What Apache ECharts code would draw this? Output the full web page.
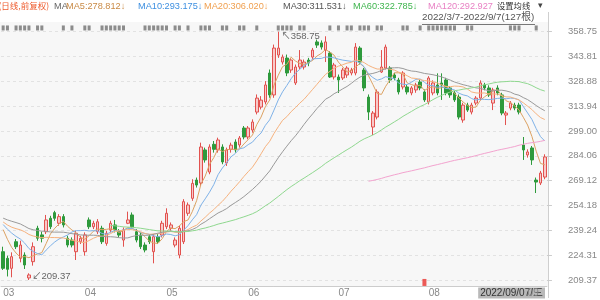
<!DOCTYPE html>
<html><head><meta charset="utf-8">
<script src="https://cdn.jsdelivr.net/npm/echarts@6/dist/echarts.min.js"></script>
<style>html,body{margin:0;padding:0;background:#fff}#c{width:600px;height:300px}</style>
</head><body><div id="c"></div>
<script>
// ---- DATA ----
const tradingDays = [
  [3, [7,8,9,10,11,14,15,16,17,18,21,22,23,24,25,28,29,30,31]],
  [4, [1,6,7,8,11,12,13,14,15,18,19,20,21,22,25,26,27,28,29]],
  [5, [5,6,9,10,11,12,13,16,17,18,19,20,23,24,25,26,27,30,31]],
  [6, [1,2,6,7,8,9,10,13,14,15,16,17,20,21,22,23,24,27,28,29,30]],
  [7, [1,4,5,6,7,8,11,12,13,14,15,18,19,20,21,22,25,26,27,28,29]],
  [8, [1,2,3,4,5,8,9,10,11,12,15,16,17,18,19,22,23,24,25,26,29,30,31]],
  [9, [1,2,5,6,7]]
];
const opens = [226.4,222.4,216.4,232.4,222.4,224.4,210.6,220.4,240.5,236.5,
238.4,246.5,249.9,243.5,247.5,234.5,233.4,226.4,232.4,226.4,
245.5,241.4,238.4,240.5,231.4,239.5,242.5,238.4,233.4,243.5,
248.5,238.4,236.4,230.4,235.4,226.4,235.4,236.4,241.4,240.5,
230.4,224.4,232.4,249.5,258.5,269.5,267.7,287.6,274.3,291.0,
287.6,289.4,279.8,288.0,292.4,290.6,300.8,295.4,299.6,310.4,
313.4,316.5,333.9,320.7,344.7,340.5,342.9,335.7,327.9,337.5,
337.5,341.7,343.5,352.6,352.0,347.7,345.9,331.5,331.5,330.9,
332.7,333.9,333.9,348.9,335.7,319.4,301.4,307.4,334.5,336.9,
336.9,332.7,329.7,325.5,325.5,321.9,323.7,328.5,322.5,316.5,
321.9,326.7,327.9,329.7,324.9,321.9,319.4,305.6,314.6,310.4,
315.8,318.8,326.7,324.9,315.8,324.9,320.7,308.6,312.8,314.6,
314.6,290.6,284.6,288.8,269.5,267.7,271.3];
const closes = [216.4,215.8,223.4,229.4,230.4,218.4,212.4,229.4,234.5,234.5,
245.5,241.4,246.5,247.5,242.5,230.4,230.4,237.5,234.5,236.5,
241.4,243.5,244.4,232.4,237.5,243.5,239.5,236.4,239.5,245.5,
241.4,233.4,229.4,227.4,232.4,235.4,232.4,243.5,249.5,242.5,
233.4,240.5,256.5,254.5,267.5,266.5,289.4,281.6,289.4,288.0,
293.6,280.4,287.6,290.5,287.6,294.8,295.4,300.8,304.4,318.8,
317.6,326.7,320.7,348.9,348.9,343.5,333.9,341.7,337.5,341.7,
340.5,339.9,347.7,350.7,349.5,352.6,331.5,338.7,329.7,335.7,
336.9,335.7,349.5,340.5,324.9,310.4,309.8,322.5,337.5,349.5,
329.7,330.9,322.5,333.9,322.5,324.9,326.7,324.9,317.7,330.9,
327.9,321.9,326.7,321.9,320.7,317.7,307.4,314.6,311.6,314.6,
318.8,327.9,324.9,320.7,323.7,321.9,309.8,309.8,315.8,312.8,
310.4,287.6,286.4,281.6,268.3,273.7,283.4];
const lows = [215.4,211.5,211.0,228.0,220.0,216.0,209.37,218.0,233.0,232.0,
237.0,240.0,245.0,242.0,241.0,229.0,229.0,221.4,231.0,224.0,
240.0,240.0,237.0,231.0,230.0,238.0,238.0,235.0,229.4,243.0,
240.0,232.0,228.0,226.0,231.0,219.4,231.0,235.0,240.0,239.0,
229.0,222.4,231.0,248.0,257.0,265.0,266.0,280.0,273.0,286.0,
286.0,279.0,278.0,286.0,286.0,289.0,294.0,294.0,298.0,309.0,
312.0,315.0,319.0,319.0,343.0,339.0,332.0,334.0,326.7,336.0,
336.0,338.0,342.0,349.0,348.0,340.5,330.9,330.0,321.9,329.7,
331.0,332.5,332.5,339.0,323.0,305.6,296.6,306.0,333.9,336.0,
328.0,329.5,321.0,324.0,321.0,320.5,322.0,323.5,316.5,315.0,
320.5,320.5,317.7,320.5,319.0,316.5,306.0,304.0,310.5,309.0,
314.5,317.5,323.5,319.5,311.6,320.5,308.5,302.6,311.5,311.5,
309.0,281.6,283.0,278.6,261.7,266.5,270.0];
const highs = [229.4,224.0,226.0,234.0,233.0,226.0,213.4,232.0,242.0,238.5,
248.5,248.0,251.0,249.0,249.0,236.0,235.0,239.0,236.0,238.0,
247.0,245.0,246.0,242.0,239.0,245.0,245.5,240.0,241.0,250.5,
250.0,240.0,238.0,232.0,237.0,237.0,237.0,245.0,252.5,244.0,
235.0,242.0,258.0,256.0,270.0,271.0,292.0,289.0,291.0,293.0,
295.0,291.0,289.0,292.0,294.0,296.0,302.0,302.0,306.0,321.0,
320.0,329.0,336.0,351.0,358.75,345.0,345.0,343.0,339.0,347.7,
342.0,343.0,349.0,354.0,353.5,356.0,347.0,340.0,333.0,337.0,
338.0,337.0,351.9,350.0,337.0,321.0,311.0,324.0,347.7,351.0,
338.0,334.0,331.0,335.0,327.0,326.0,328.0,330.0,324.0,332.0,
329.5,333.7,333.7,331.0,326.0,323.0,321.0,316.0,316.0,316.0,
320.0,329.5,328.0,326.5,325.0,326.5,322.0,311.0,317.0,316.0,
316.0,295.4,288.0,290.0,271.0,275.0,285.0];
// closes before 2022/3/7 (estimated from the MA lines at the left edge)
const priorCloses = [252,255,258,254,250,247,249,252,256,259,255,251,248,246,249,252,250,
247,244,242,245,248,246,243,241,244,247,249,246,243,245,248,246,243];
const tickLabels = ['209.37','224.31','239.24','254.18','269.12','284.06','299.00','313.94','328.88','343.81','358.75'];
const maPeriods = [5,10,20,30,60,120];
const maLegend = ['MA5:278.812↓','MA10:293.175↓','MA20:306.020↓','MA30:311.531↓','MA60:322.785↓','MA120:292.927'];
const markerIdx = [0,1,3,4,5,6,8,9,14,16,19,20,23,24,25,26,27,28,33,34,35,36,37,38,40,41,43,46,47,48,51,52,55,56,59,
64,65,66,67,69,70,76,78,80,81,83,84,85,87,88,93,94,97,99,100,101,102,103,104,105,108,109,118,119,120,124];
const eventIdx = [98];

// ---- BUILD ----
const Y_MIN = 209.37, Y_MAX = 358.75, Y_INT = 14.938;
const weekNames = ['日','一','二','三','四','五','六'];
const dates = [], monthOf = [];
tradingDays.forEach(([m, days]) => days.forEach(d => {
  dates.push('2022/' + String(m).padStart(2,'0') + '/' + String(d).padStart(2,'0'));
  monthOf.push(m);
}));
const isMonthStart = monthOf.map((m, i) => i === 0 || m !== monthOf[i-1]);
const lastDate = dates[dates.length-1];
const lastWeek = weekNames[new Date(lastDate.replace(/\//g,'-') + 'T00:00:00').getDay()];

const allCloses = priorCloses.concat(closes);
const P = priorCloses.length;
function ma(n) {
  return closes.map((_, i) => {
    const j = i + P;
    if (j - n + 1 < 0) return null;
    let s = 0;
    for (let k = j - n + 1; k <= j; k++) s += allCloses[k];
    return +(s / n).toFixed(3);
  });
}
const candles = opens.map((o, i) => [o, closes[i], lows[i], highs[i]]);
let maxIdx = 0, minIdx = 0;
highs.forEach((h, i) => { if (h > highs[maxIdx]) maxIdx = i; });
lows.forEach((l, i) => { if (l < lows[minIdx]) minIdx = i; });

const maColors = ['#dca263','#7fb2e8','#f6b27e','#9a9a9a','#8fd88f','#f3a3cf'];
const legendColors = ['#c98a45','#3d8fe0','#f0a050','#555555','#3fb54e','#e87fc3'];
const FONT = '"Liberation Sans","Noto Sans CJK SC",sans-serif';
const CJK = '"Noto Sans CJK SC","Liberation Sans",sans-serif';
const MARK_LEVEL = 361.0, EVENT_LEVEL = 207.9;

const series = [{
  type: 'candlestick', data: candles, barWidth: 3,
  itemStyle: { color: '#f8c9c9', color0: '#2e9a3c', borderColor: '#e2524f', borderColor0: '#2e9a3c', borderWidth: 1 },
  markPoint: {
    symbol: 'circle', symbolSize: 0, animation: false,
    label: { show: true, color: '#666', fontSize: 9.5, fontFamily: FONT, position: 'right', distance: 3 },
    data: [
      { coord: [maxIdx, highs[maxIdx]], label: { formatter: '↖' + highs[maxIdx].toFixed(2), offset: [0, 5] } },
      { coord: [minIdx, lows[minIdx]], label: { formatter: '↙' + lows[minIdx].toFixed(2), offset: [0, -4] } }
    ]
  },
  z: 3
}];
maPeriods.forEach((n, k) => series.push({
  type: 'line', data: ma(n), symbol: 'none', smooth: false, connectNulls: false,
  lineStyle: { width: 1, color: maColors[k] }, itemStyle: { color: maColors[k] }, z: 4, silent: true
}));
series.push({
  type: 'scatter', data: markerIdx.map(i => [i, MARK_LEVEL]), clip: false, symbol: 'rect',
  symbolSize: [3, 5], itemStyle: { color: '#707070' }, silent: true
});
series.push({
  type: 'scatter', data: eventIdx.map(i => [i, EVENT_LEVEL]), clip: false, symbol: 'rect',
  symbolSize: [4, 7], itemStyle: { color: '#e8322e' }, silent: true
});

const hdr = [
  { x: -1.5, text: '(日线,前复权)', fill: '#ee5a2c', font: '8.5px ' + CJK },
  { x: 54, text: 'MA', fill: '#666', font: '9.2px ' + FONT },
  { x: 66, text: maLegend[0], fill: legendColors[0], font: '9.2px ' + FONT },
  { x: 138, text: maLegend[1], fill: legendColors[1], font: '9.2px ' + FONT },
  { x: 204, text: maLegend[2], fill: legendColors[2], font: '9.2px ' + FONT },
  { x: 283, text: maLegend[3], fill: legendColors[3], font: '9.2px ' + FONT },
  { x: 353, text: maLegend[4], fill: legendColors[4], font: '9.2px ' + FONT },
  { x: 428, text: maLegend[5], fill: legendColors[5], font: '9.2px ' + FONT },
  { x: 497, text: '设置均线', fill: '#333', font: '8.3px ' + CJK },
  { x: 538, text: '▾', fill: '#444', font: '9px ' + FONT }
];
const graphic = [
  { type: 'rect', z: -10, silent: true, shape: { x: 0, y: 22, width: 548, height: 264 }, style: { fill: '#f7f7f7' } },
  { type: 'line', silent: true, shape: { x1: 548.5, y1: 12, x2: 548.5, y2: 298 }, style: { stroke: '#cfcfcf', lineWidth: 1 } }
];
hdr.forEach(h => graphic.push({ type: 'text', x: h.x, y: 6, silent: true,
  style: { text: h.text, fill: h.fill, font: h.font, textVerticalAlign: 'middle', verticalAlign: 'middle' } }));
graphic.push({ type: 'text', x: 422, y: 17.5, silent: true,
  style: { text: '2022/3/7-2022/9/7(' + closes.length + '根)', fill: '#555', font: '9.8px ' + FONT, textVerticalAlign: 'middle', verticalAlign: 'middle' } });
graphic.push({ type: 'line', silent: true, shape: { x1: 422, y1: 24.5, x2: 535, y2: 24.5 }, style: { stroke: '#777', lineWidth: 1 } });
graphic.push({ type: 'text', x: 545, y: 293, silent: true,
  style: { text: lastDate + '/' + lastWeek, fill: '#333', font: '10px ' + FONT, textAlign: 'right', align: 'right',
    textVerticalAlign: 'middle', verticalAlign: 'middle', backgroundColor: '#b9b9b9', padding: [1, 2, 0, 2] } });

const option = {
  animation: false,
  backgroundColor: '#ffffff',
  grid: { left: 1, right: 52, top: 31.7, bottom: 20 },
  xAxis: {
    type: 'category', data: dates, boundaryGap: true, offset: 6,
    axisLine: { lineStyle: { color: '#cccccc' } },
    axisTick: { alignWithLabel: true, interval: (i) => isMonthStart[i], length: 9, lineStyle: { color: '#cccccc' } },
    axisLabel: { interval: (i) => isMonthStart[i], formatter: (v, i) => String(monthOf[i]).padStart(2, '0'),
      align: 'left', margin: 2, color: '#888', fontSize: 10, fontFamily: FONT },
    splitLine: { show: false }
  },
  yAxis: {
    type: 'value', position: 'right', min: Y_MIN, max: Y_MAX, interval: Y_INT,
    axisLine: { show: false },
    axisTick: { show: true, length: 5, lineStyle: { color: '#cccccc' } },
    axisLabel: { margin: 21, color: '#888', fontSize: 9.5, fontFamily: FONT,
      formatter: (v) => tickLabels[Math.round((v - Y_MIN) / Y_INT)] || '' },
    splitLine: { lineStyle: { color: '#e2e2e2', type: [3, 3] } }
  },
  series: series,
  graphic: graphic
};
const chart = echarts.init(document.getElementById('c'));
chart.setOption(option);
</script></body></html>
